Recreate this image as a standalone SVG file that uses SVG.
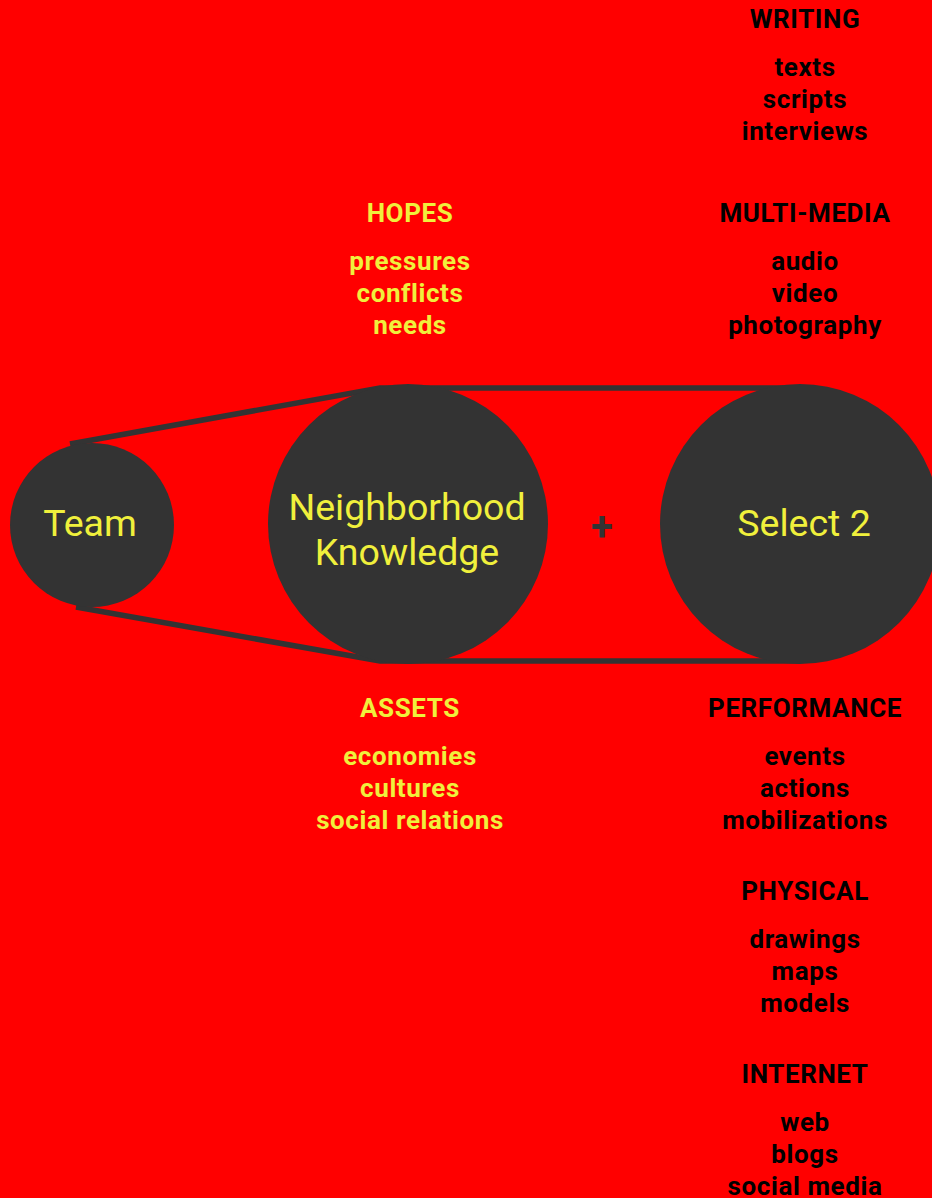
<svg xmlns="http://www.w3.org/2000/svg" width="932" height="1198" viewBox="0 0 932 1198">
<style>
.node{fill:#333333}
.big{font-family:Roboto,"Liberation Sans",sans-serif;font-size:37.5px;fill:#f0f03c;text-anchor:middle}
.lbl{font-family:Roboto,"Liberation Sans",sans-serif;font-size:26px;font-weight:bold;letter-spacing:0.6px;text-anchor:middle}
.y{fill:#f0f03c}
.k{fill:#000000}
.belt{fill:none;stroke:#333333;stroke-width:5.5;stroke-linejoin:miter}
</style>
<rect x="0" y="0" width="932" height="1198" fill="#ff0000"/>
<g id="connectors">
<polyline class="belt" points="70,444 380,388 800,388"/>
<polyline class="belt" points="76,607 380,661 800,661"/>
</g>
<g id="team">
<circle class="node" cx="92" cy="525" r="82"/>
<text class="big" x="90" y="536">Team</text>
</g>
<g id="neighborhood">
<circle class="node" cx="408" cy="524" r="140"/>
<text class="big" x="407" y="520">Neighborhood</text>
<text class="big" x="407" y="565">Knowledge</text>
</g>
<g id="plus">
<text x="602" y="540" font-family="Roboto,'Liberation Sans',sans-serif" font-size="40" font-weight="bold" fill="#333333" text-anchor="middle">+</text>
</g>
<g id="select2">
<circle class="node" cx="800" cy="524" r="140"/>
<text class="big" x="804" y="536">Select 2</text>
</g>
<g id="hopes" class="lbl y">
<text x="410" y="222">HOPES</text>
<text x="410" y="270">pressures</text>
<text x="410" y="302">conflicts</text>
<text x="410" y="334">needs</text>
</g>
<g id="assets" class="lbl y">
<text x="410" y="717">ASSETS</text>
<text x="410" y="765">economies</text>
<text x="410" y="797">cultures</text>
<text x="410" y="829">social relations</text>
</g>
<g id="writing" class="lbl k">
<text x="805" y="28">WRITING</text>
<text x="805" y="76">texts</text>
<text x="805" y="108">scripts</text>
<text x="805" y="140">interviews</text>
</g>
<g id="multimedia" class="lbl k">
<text x="805" y="222">MULTI-MEDIA</text>
<text x="805" y="270">audio</text>
<text x="805" y="302">video</text>
<text x="805" y="334">photography</text>
</g>
<g id="performance" class="lbl k">
<text x="805" y="717">PERFORMANCE</text>
<text x="805" y="765">events</text>
<text x="805" y="797">actions</text>
<text x="805" y="829">mobilizations</text>
</g>
<g id="physical" class="lbl k">
<text x="805" y="900">PHYSICAL</text>
<text x="805" y="948">drawings</text>
<text x="805" y="980">maps</text>
<text x="805" y="1012">models</text>
</g>
<g id="internet" class="lbl k">
<text x="805" y="1083">INTERNET</text>
<text x="805" y="1131">web</text>
<text x="805" y="1163">blogs</text>
<text x="805" y="1195">social media</text>
</g>
</svg>
